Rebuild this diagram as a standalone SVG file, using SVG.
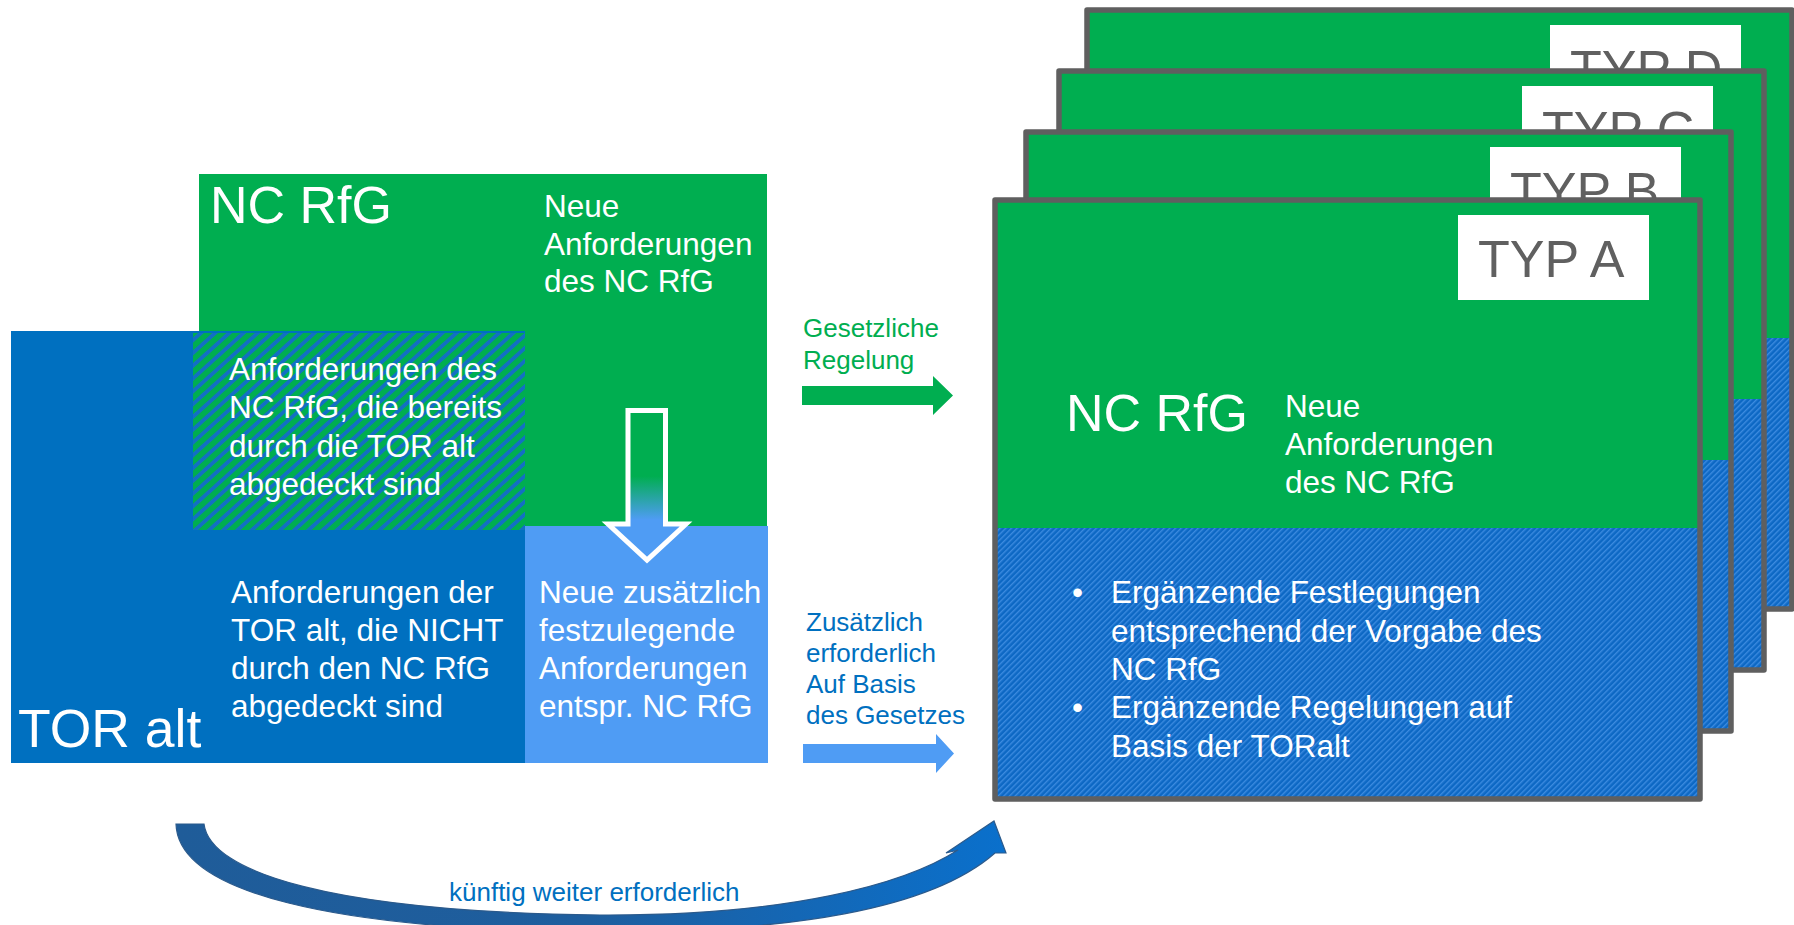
<svg xmlns="http://www.w3.org/2000/svg" width="1794" height="925" viewBox="0 0 1794 925">
<style>
  .t { font-family: "Liberation Sans", Arial, sans-serif; }
  .w { fill: #ffffff; }
  .txt31 { font-size: 31.5px; }
  .big { font-size: 52px; }
  .typ { font-size: 52px; fill: #606060; }
  .lbl { font-size: 26px; }
  .card { fill: none; stroke: #5F5F5F; stroke-width: 5.5; stroke-linejoin: round; }
  .green { fill: #00AE50; }
  .typbox { fill: #ffffff; }
</style>
<defs>
  <pattern id="hatchGB" width="9.5" height="9.5" patternUnits="userSpaceOnUse" patternTransform="rotate(48)">
    <rect width="9.5" height="9.5" fill="#00AE50"/>
    <rect width="3.8" height="9.5" fill="#136FC4"/>
  </pattern>
  <pattern id="hatchB" width="4" height="4" patternUnits="userSpaceOnUse" patternTransform="rotate(45)">
    <rect width="4" height="4" fill="#0D68C4"/>
    <rect width="1.4" height="4" fill="#3C8BE0"/>
  </pattern>
  <linearGradient id="downGrad" gradientUnits="userSpaceOnUse" x1="0" y1="408" x2="0" y2="563">
    <stop offset="0" stop-color="#00AE50"/>
    <stop offset="0.44" stop-color="#00AE50"/>
    <stop offset="0.72" stop-color="#4F9CF4"/>
    <stop offset="1" stop-color="#4F9CF4"/>
  </linearGradient>
  <linearGradient id="curveGrad" gradientUnits="userSpaceOnUse" x1="176" y1="0" x2="1005" y2="0">
    <stop offset="0" stop-color="#1F5C99"/>
    <stop offset="0.5" stop-color="#1E5E9E"/>
    <stop offset="1" stop-color="#0A70CC"/>
  </linearGradient>
</defs>

<!-- Left block -->
<g id="nc-rfg-block">
  <rect x="199" y="174" width="568" height="352" class="green"/>
  <text class="t w big" x="210" y="223">NC RfG</text>
  <text class="t w txt31" x="544" y="217">Neue</text>
  <text class="t w txt31" x="544" y="255">Anforderungen</text>
  <text class="t w txt31" x="544" y="292">des NC RfG</text>
</g>
<g id="tor-alt-block">
  <rect x="11" y="331" width="514" height="432" fill="#0070C0"/>
  <text class="t w big" x="18" y="747" style="font-size:53.5px">TOR alt</text>
  <text class="t w txt31" x="231" y="603">Anforderungen der</text>
  <text class="t w txt31" x="231" y="641">TOR alt, die NICHT</text>
  <text class="t w txt31" x="231" y="679">durch den NC RfG</text>
  <text class="t w txt31" x="231" y="717">abgedeckt sind</text>
</g>
<g id="overlap-block">
  <rect x="193" y="333" width="332" height="197" fill="url(#hatchGB)"/>
  <text class="t w txt31" x="229" y="380">Anforderungen des</text>
  <text class="t w txt31" x="229" y="418">NC RfG, die bereits</text>
  <text class="t w txt31" x="229" y="457">durch die TOR alt</text>
  <text class="t w txt31" x="229" y="495">abgedeckt sind</text>
</g>
<g id="new-additional-block">
  <rect x="525" y="526" width="243" height="237" fill="#4F9CF4"/>
  <text class="t w txt31" x="539" y="603">Neue zusätzlich</text>
  <text class="t w txt31" x="539" y="641">festzulegende</text>
  <text class="t w txt31" x="539" y="679">Anforderungen</text>
  <text class="t w txt31" x="539" y="717">entspr. NC RfG</text>
</g>

<!-- Cards (back to front) -->
<g id="card-typ-d">
  <rect x="1087" y="10" width="705" height="599" class="green"/>
  <rect x="1087" y="338" width="705" height="271" fill="url(#hatchB)"/>
  <rect x="1550" y="25" width="191" height="85" class="typbox"/>
  <text class="t typ" x="1570" y="87">TYP D</text>
  <rect x="1087" y="10" width="705" height="599" class="card"/>
</g>
<g id="card-typ-c">
  <rect x="1059" y="71" width="705" height="599" class="green"/>
  <rect x="1059" y="399" width="705" height="271" fill="url(#hatchB)"/>
  <rect x="1522" y="86" width="191" height="85" class="typbox"/>
  <text class="t typ" x="1542" y="148">TYP C</text>
  <rect x="1059" y="71" width="705" height="599" class="card"/>
</g>
<g id="card-typ-b">
  <rect x="1026" y="132" width="705" height="599" class="green"/>
  <rect x="1026" y="460" width="705" height="271" fill="url(#hatchB)"/>
  <rect x="1490" y="147" width="191" height="85" class="typbox"/>
  <text class="t typ" x="1510" y="209">TYP B</text>
  <rect x="1026" y="132" width="705" height="599" class="card"/>
</g>
<g id="card-typ-a">
  <rect x="995" y="200" width="705" height="599" class="green"/>
  <rect x="995" y="528" width="705" height="271" fill="url(#hatchB)"/>
  <rect x="1458" y="215" width="191" height="85" class="typbox"/>
  <text class="t typ" x="1478" y="277">TYP A</text>
  <text class="t w big" x="1066" y="431">NC RfG</text>
  <text class="t w txt31" x="1285" y="417">Neue</text>
  <text class="t w txt31" x="1285" y="455">Anforderungen</text>
  <text class="t w txt31" x="1285" y="493">des NC RfG</text>
  <text class="t w txt31" x="1072" y="603">•</text>
  <text class="t w txt31" x="1111" y="603">Ergänzende Festlegungen</text>
  <text class="t w txt31" x="1111" y="642">entsprechend der Vorgabe des</text>
  <text class="t w txt31" x="1111" y="680">NC RfG</text>
  <text class="t w txt31" x="1072" y="718">•</text>
  <text class="t w txt31" x="1111" y="718">Ergänzende Regelungen auf</text>
  <text class="t w txt31" x="1111" y="757">Basis der TORalt</text>
  <rect x="995" y="200" width="705" height="599" class="card"/>
</g>

<!-- Connectors -->
<g id="connectors">
  <path d="M628 410.5 H665.5 V524 H686 L647 560 L608 524 H628 Z" fill="url(#downGrad)" stroke="#ffffff" stroke-width="5"/>
  <path d="M802 386 H933 V376 L953 395.5 L933 415 V405 H802 Z" fill="#00AE50"/>
  <text class="t lbl" fill="#00AE50" x="803" y="337">Gesetzliche</text>
  <text class="t lbl" fill="#00AE50" x="803" y="369">Regelung</text>
  <path d="M803 744 H936 V734 L954 753.5 L936 773 V763 H803 Z" fill="#4F9CF4"/>
  <text class="t lbl" fill="#0070C0" x="806" y="631">Zusätzlich</text>
  <text class="t lbl" fill="#0070C0" x="806" y="662">erforderlich</text>
  <text class="t lbl" fill="#0070C0" x="806" y="693">Auf Basis</text>
  <text class="t lbl" fill="#0070C0" x="806" y="724">des Gesetzes</text>
  <path d="M176 824 L204 824 C210 872 330 912 600 915 C790 916 905 884 958 850 L946 853 L994 821 L1006 853 L995 853 C930 910 790 932 600 932 C330 930 178 892 176 824 Z" fill="url(#curveGrad)" stroke="#2B5A8C" stroke-width="1.2"/>
  <text class="t lbl" fill="#0070C0" x="449" y="901">künftig weiter erforderlich</text>
</g>
</svg>
